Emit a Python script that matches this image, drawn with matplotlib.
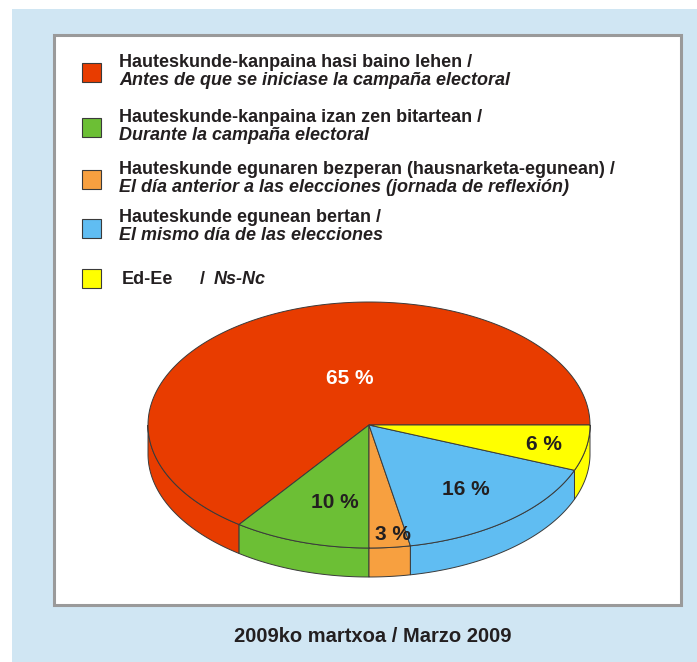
import numpy as np
import matplotlib.pyplot as plt
from matplotlib.patches import Polygon, Rectangle

plt.rcParams['font.family'] = ['Liberation Sans', 'DejaVu Sans']

# legend texts (euskara / castellano)
labels_eu = ['Hauteskunde-kanpaina hasi baino lehen /',
             'Hauteskunde-kanpaina izan zen bitartean /',
             'Hauteskunde egunaren bezperan (hausnarketa-egunean) /',
             'Hauteskunde egunean bertan /',
             'Ed-Ee']
labels_es = ['Antes de que se iniciase la campaña electoral',
             'Durante la campaña electoral',
             'El día anterior a las elecciones (jornada de reflexión)',
             'El mismo día de las elecciones',
             'Ns-Nc']
values = [65, 10, 3, 16, 6]
pct_labels = ['65 %', '10 %', '3 %', '16 %', '6 %']
colors = ['#e83c00', '#6cbf35', '#f7a040', '#60bdf2', '#ffff00']
caption = '2009ko martxoa / Marzo 2009'

W, H = 697, 662
txt = '#231f20'
edge = '#3a3a3a'
fs = 13

fig = plt.figure(figsize=(W / 100, H / 100), dpi=100)
fig.patch.set_facecolor('white')
ax = fig.add_axes([0, 0, 1, 1])
ax.set_xlim(0, W)
ax.set_ylim(H, 0)
ax.axis('off')

# background + white panel
ax.add_patch(Rectangle((12, 9), W - 12, H - 9, facecolor='#d0e6f3', edgecolor='none', zorder=0))
ax.add_patch(Rectangle((53.5, 34.5), 627, 570, facecolor='white', edgecolor='#9a9a9a',
                       linewidth=2.2, zorder=1))

# legend
marker_y = [72.5, 127, 179, 228, 278]
for i, my in enumerate(marker_y):
    ax.add_patch(Rectangle((82, my - 9.5), 19, 19, facecolor=colors[i], edgecolor=edge,
                           linewidth=0.8, zorder=3))
    if i < 4:
        ax.text(119, my - 5.5, labels_eu[i], fontsize=fs, fontweight='bold', color=txt,
                va='baseline', ha='left', zorder=3)
        ax.text(119, my + 12.5, labels_es[i], fontsize=fs, fontweight='bold', style='italic',
                color=txt, va='baseline', ha='left', zorder=3)
    else:
        ax.text(122, my + 6, labels_eu[i], fontsize=fs, fontweight='bold', color=txt,
                va='baseline', ha='left', zorder=3)
        ax.text(200, my + 6, '/', fontsize=fs, fontweight='bold', color=txt,
                va='baseline', ha='left', zorder=3)
        ax.text(214, my + 6, labels_es[i], fontsize=fs, fontweight='bold', style='italic',
                color=txt, va='baseline', ha='left', zorder=3)

# 3D pie
cx, cy = 369, 425
a, b = 221, 123
depth = 29


def ell(t):
    t = np.radians(t)
    return cx + a * np.cos(t), cy - b * np.sin(t)


cum = np.concatenate([[0], np.cumsum(values)]) / np.sum(values) * 360
# side walls (front half only)
for i in range(len(values)):
    lo, hi = max(cum[i], 180), min(cum[i + 1], 360)
    if lo >= hi:
        continue
    ts = np.linspace(lo, hi, 80)
    xs, ys = ell(ts)
    pts = list(zip(xs, ys)) + list(zip(xs[::-1], ys[::-1] + depth))
    ax.add_patch(Polygon(pts, closed=True, facecolor=colors[i], edgecolor=edge,
                         linewidth=0.7, zorder=4))
# top faces
for i in range(len(values)):
    ts = np.linspace(cum[i], cum[i + 1], 200)
    xs, ys = ell(ts)
    pts = [(cx, cy)] + list(zip(xs, ys))
    ax.add_patch(Polygon(pts, closed=True, facecolor=colors[i], edgecolor=edge,
                         linewidth=0.7, zorder=5))

# percentage labels
lab_r = [0.40, 0.63, 0.877, 0.674, 0.804]
lab_shift = [-14.6, 3.8, 1.7, 1.0, 0.9]
lab_col = ['white', txt, txt, txt, txt]
for i in range(len(values)):
    mid = (cum[i] + cum[i + 1]) / 2 + lab_shift[i]
    t = np.radians(mid)
    x = cx + lab_r[i] * a * np.cos(t)
    y = cy - lab_r[i] * b * np.sin(t)
    ax.text(x, y + 7.5, pct_labels[i], fontsize=15, fontweight='bold', color=lab_col[i],
            ha='center', va='baseline', zorder=6)

# caption
ax.text(373, 642, caption, fontsize=14.5, fontweight='bold', color=txt,
        ha='center', va='baseline', zorder=3)

fig.savefig('out.png', dpi=100, facecolor=fig.get_facecolor())
